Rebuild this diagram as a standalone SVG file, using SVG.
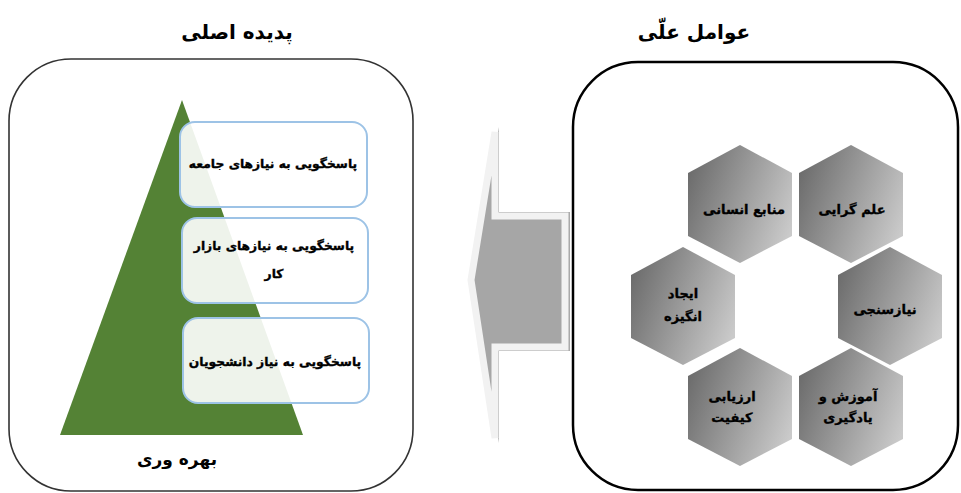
<svg xmlns="http://www.w3.org/2000/svg" width="961" height="493" viewBox="0 0 961 493">
<defs>
<linearGradient id="hexg" x1="0" y1="0.3" x2="1" y2="0.7">
<stop offset="0" stop-color="#6e6e6e"/>
<stop offset="1" stop-color="#cacaca"/>
</linearGradient>
<style>
text{font-family:"DejaVu Sans","Noto Sans",sans-serif;font-weight:bold;fill:#000;direction:rtl;text-anchor:middle}
.title{font-size:20px}
.box{fill:#ffffff;fill-opacity:0.9;stroke:#9dc3e6;stroke-width:2}
.bt{font-size:12.3px;stroke:#000;stroke-width:0.35}
.hex{fill:url(#hexg)}
.ht{font-size:13px;stroke:#000;stroke-width:0.35}
</style>
</defs>
<rect width="961" height="493" fill="#ffffff"/>

<g id="title-left"><text class="title" x="237" y="39">پدیده اصلی</text></g>
<g id="title-right"><text class="title" x="694" y="39">عوامل علّی</text></g>

<g id="left-panel">
<rect x="9" y="59" width="404" height="432" rx="62" ry="62" fill="#ffffff" stroke="#333333" stroke-width="1.6"/>
<polygon points="182,100 303,435 60,435" fill="#548235"/>
<text x="177" y="465" style="font-size:17px">بهره وری</text>
</g>

<g id="box1">
<rect class="box" x="180" y="122" width="187" height="85" rx="15"/>
<text class="bt" x="273" y="168">پاسخگویی به نیازهای جامعه</text>
</g>
<g id="box2">
<rect class="box" x="182" y="218" width="186" height="85" rx="15"/>
<text class="bt" x="274" y="250">پاسخگویی به نیازهای بازار</text>
<text class="bt" x="274" y="278">کار</text>
</g>
<g id="box3">
<rect class="box" x="183" y="318" width="186" height="85" rx="15"/>
<text class="bt" x="275" y="366">پاسخگویی به نیاز دانشجویان</text>
</g>

<g id="connectors">
<polygon points="473,280 499,127 499,212 570,212 570,351 499,351 499,443" fill="#a9a9a9"/>
<polygon points="471,280 495,132 495,216 565,216 565,347 495,347 495,438" fill="#a6a6a6" stroke="#f2f2f2" stroke-width="7" stroke-linejoin="miter"/>
</g>

<g id="right-panel">
<rect x="573" y="62" width="385" height="428" rx="65" ry="65" fill="none" stroke="#000000" stroke-width="2.5"/>
</g>

<g id="hex-manabe">
<polygon class="hex" points="740,145 792,173 792,236 740,263 688,236 688,173"/>
<text class="ht" x="744" y="214">منابع انسانی</text>
</g>
<g id="hex-elm">
<polygon class="hex" points="851,145 903,173 903,236 851,263 799,236 799,173"/>
<text class="ht" x="852" y="214">علم گرایی</text>
</g>
<g id="hex-ijad">
<polygon class="hex" points="683,247 735,275 735,338 683,365 631,338 631,275"/>
<text class="ht" x="683" y="298">ایجاد</text>
<text class="ht" x="683" y="321">انگیزه</text>
</g>
<g id="hex-niaz">
<polygon class="hex" points="890,247 942,275 942,338 890,365 838,338 838,275"/>
<text class="ht" x="885" y="314">نیازسنجی</text>
</g>
<g id="hex-arzyabi">
<polygon class="hex" points="740,348 792,376 792,439 740,466 688,439 688,376"/>
<text class="ht" x="732" y="401">ارزیابی</text>
<text class="ht" x="732" y="422">کیفیت</text>
</g>
<g id="hex-amuzesh">
<polygon class="hex" points="851,348 903,376 903,439 851,466 799,439 799,376"/>
<text class="ht" x="848" y="401">آموزش و</text>
<text class="ht" x="848" y="422">یادگیری</text>
</g>
</svg>
